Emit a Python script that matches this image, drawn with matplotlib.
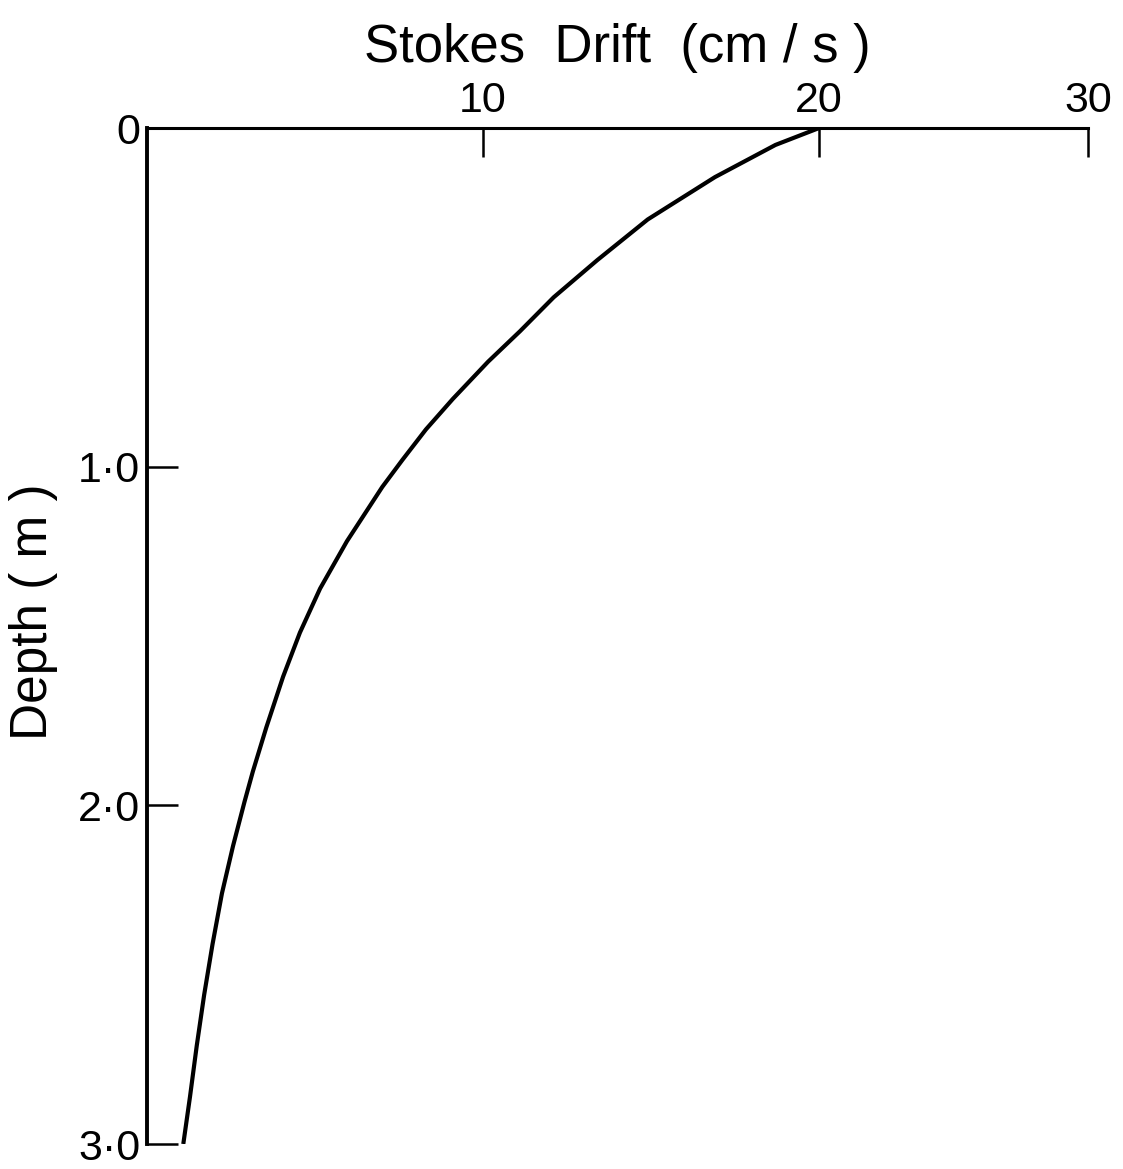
import numpy as np
import matplotlib.pyplot as plt

# Stokes drift profile (depth in m, drift in cm/s)
depth = [0.0, 0.05, 0.145, 0.27, 0.39, 0.50, 0.60, 0.69, 0.80, 0.89, 0.98, 1.06,
         1.22, 1.36, 1.49, 1.62, 1.77, 1.90, 1.99, 2.12, 2.26, 2.41, 2.56, 2.71,
         2.86, 3.0]
drift = [20.0, 18.7, 16.9, 14.9, 13.4, 12.1, 11.1, 10.15, 9.1, 8.3, 7.6, 7.0,
         5.95, 5.15, 4.55, 4.05, 3.55, 3.15, 2.9, 2.56, 2.23, 1.95, 1.70, 1.48,
         1.28, 1.08]

xticks = [10, 20, 30]
xticklabels = ['10', '20', '30']
yticks = [0, 1, 2, 3]
yticklabels = ['0', '1·0', '2·0', '3·0']

# the original drawing's x axis is squeezed past 20
x_data = [0, 10, 20, 30]
x_draw = [0, 10, 20, 28]

def fwd(v):
    return np.interp(v, x_data, x_draw)

def inv(v):
    return np.interp(v, x_draw, x_data)

plt.rcParams['font.family'] = ['Liberation Sans', 'DejaVu Sans']

fig = plt.figure(figsize=(11.23, 11.69), dpi=100)
ax = fig.add_axes([147 / 1123, 1 - 1144 / 1169, (1088 - 147) / 1123, (1144 - 128) / 1169])

ax.plot(drift, depth, color='black', lw=3.0, solid_capstyle='butt', solid_joinstyle='round')

ax.set_xscale('function', functions=(fwd, inv))
ax.set_xlim(0, 30)
ax.set_ylim(3, 0)

ax.xaxis.tick_top()
ax.set_xticks(xticks)
ax.set_xticklabels(xticklabels)
ax.set_yticks(yticks)
ax.set_yticklabels(yticklabels)
ax.tick_params(axis='x', direction='in', length=21, width=1.8, pad=5, labelsize=31)
ax.tick_params(axis='y', direction='in', length=22, width=1.8, pad=5, labelsize=31)
ax.xaxis.set_minor_locator(plt.NullLocator())

for side in ['right', 'bottom']:
    ax.spines[side].set_visible(False)
ax.spines['top'].set_linewidth(2.2)
ax.spines['left'].set_linewidth(2.8)

ax.set_xlabel('Stokes  Drift  (cm / s )', fontsize=38, labelpad=14)
ax.xaxis.set_label_position('top')
ax.set_ylabel('Depth ( m )', fontsize=37)
ax.yaxis.set_label_coords(-0.095, 0.524)

plt.savefig('out.png', dpi=100)
